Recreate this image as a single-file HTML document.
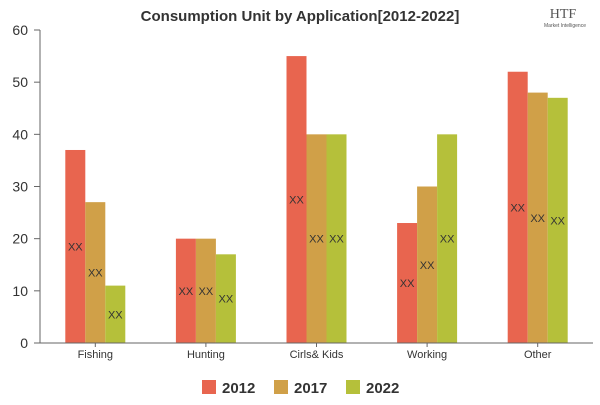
<!DOCTYPE html>
<html><head><meta charset="utf-8"><style>
body{margin:0;background:#fff;width:600px;height:400px;overflow:hidden;font-family:"Liberation Sans",sans-serif}
</style></head><body>
<svg id="c" width="600" height="400"></svg>
<script>
const categories=["Fishing","Hunting","Cirls& Kids","Working","Other"];
const series2012=[37,20,55,23,52];
const series2017=[27,20,40,30,48];
const series2022=[11,17,40,40,47];
const yTicks=[0,10,20,30,40,50,60];
const seriesNames=["2012","2017","2022"];
const colors=["#e8654f","#d0a048","#b5c03a"];
const svg=document.getElementById('c');
const NS="http://www.w3.org/2000/svg";
const L=40,R=593,T=30,B=343;
const y=v=>B-(v/60)*(B-T);
const bw=(R-L)/categories.length;
const x=i=>L+bw*(i+0.5);
function mk(t,a,txt){const e=document.createElementNS(NS,t);for(const k in a)e.setAttribute(k,a[k]);if(txt!==undefined)e.textContent=txt;svg.appendChild(e);return e;}
let e=mk('text',{x:300,y:21,'text-anchor':'middle','font-size':15,'font-weight':'bold',fill:'#333'},'Consumption Unit by  Application[2012-2022]');


e=mk('text',{x:563,y:18,'text-anchor':'middle','font-size':14,fill:'#555','font-family':'Liberation Serif'},'HTF');


e=mk('text',{x:565,y:27,'text-anchor':'middle','font-size':5,fill:'#555'},'Market Intelligence');


yTicks.forEach(t=>{
 e=mk('text',{x:28,y:y(t)+5,'text-anchor':'end','font-size':14,fill:'#333'},t);
 
 
 e=mk('line',{x1:34,x2:40,y1:y(t),y2:y(t),stroke:'#666'});
 
 
});
const all=[series2012,series2017,series2022];
categories.forEach((c,i)=>{
 all.forEach((s,j)=>{
  const bx=x(i)-30+j*20;
  e=mk('rect',{x:bx,y:y(s[i]),width:20,height:B-y(s[i]),fill:colors[j]});
  
  
  e=mk('text',{x:bx+10,y:(y(s[i])+B)/2+4,'text-anchor':'middle','font-size':11,fill:'#333'},'XX');
  
  
 });
 e=mk('text',{x:x(i),y:358,'text-anchor':'middle','font-size':11,fill:'#333'},c);
 
 
 e=mk('line',{x1:x(i),x2:x(i),y1:B,y2:B+4,stroke:'#666'});
 
 
});
e=mk('line',{x1:40,x2:40,y1:T,y2:B,stroke:'#666'});


e=mk('line',{x1:34,x2:R,y1:B,y2:B,stroke:'#666'});


seriesNames.forEach((n,j)=>{
 const lx=202+j*72;
 e=mk('rect',{x:lx,y:380,width:14,height:14,fill:colors[j]});
 
 
 e=mk('text',{x:lx+20,y:393,'font-size':15,'font-weight':'bold',fill:'#333'},n);
 
 
});
</script>
</body></html>
